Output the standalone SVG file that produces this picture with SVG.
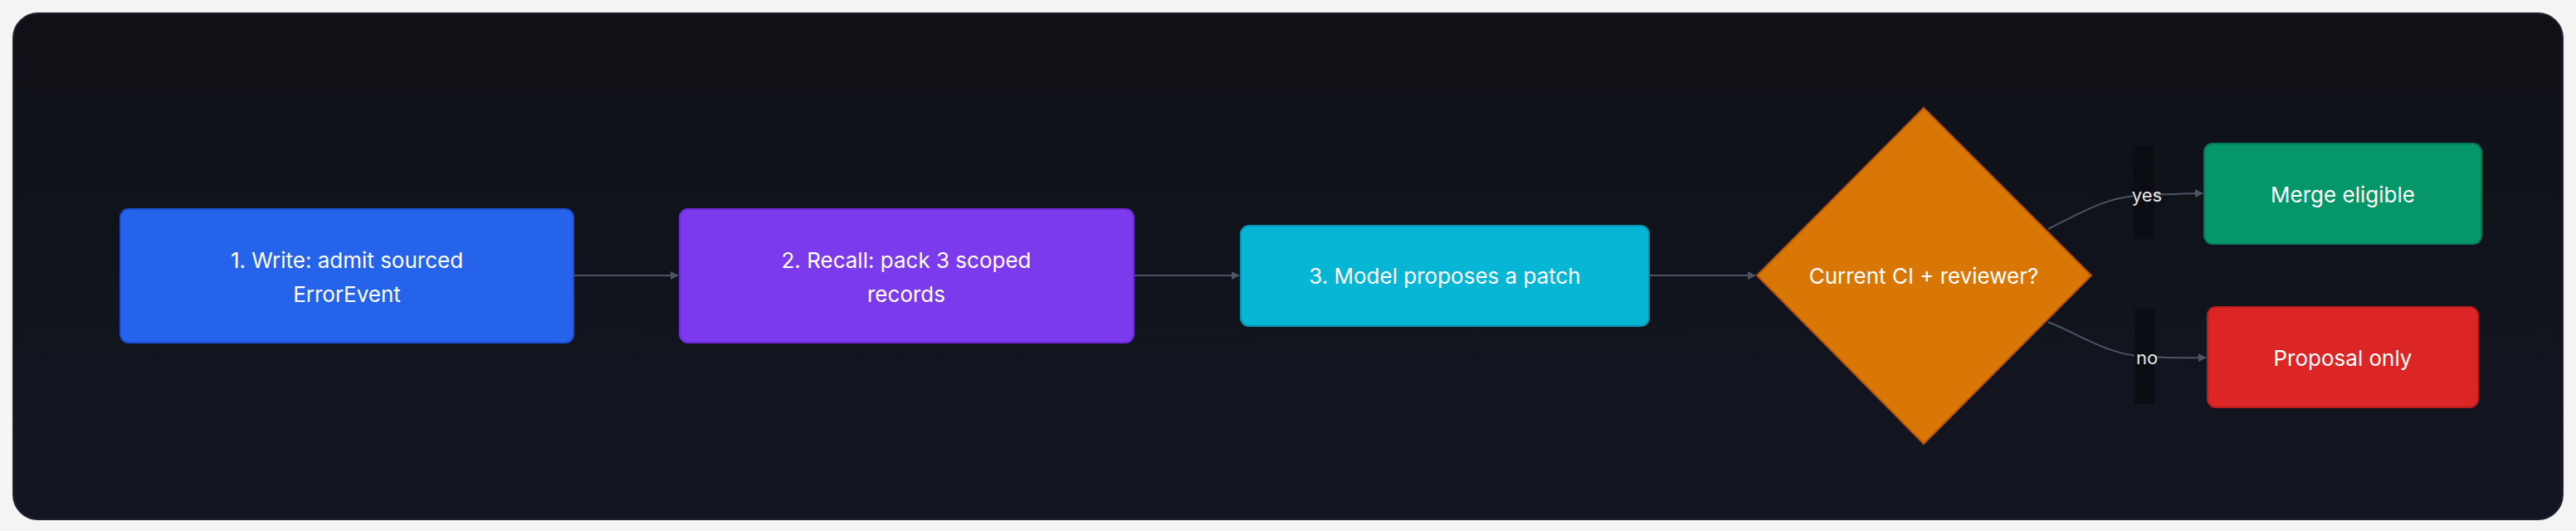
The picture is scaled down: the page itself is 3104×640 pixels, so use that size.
<svg xmlns="http://www.w3.org/2000/svg" width="3104" height="640" viewBox="0 0 3104 640">
<defs>
<linearGradient id="bg" x1="0" y1="0" x2="0" y2="1"><stop offset="0" stop-color="#0f1116"/><stop offset="1" stop-color="#131522"/></linearGradient>
<marker id="ah" viewBox="0 0 10 10" refX="9" refY="5" markerWidth="5" markerHeight="5" orient="auto"><path d="M0,0L10,5L0,10z" fill="#4b5563"/></marker>
</defs>
<style>
.t{font-family:Inter,"Liberation Sans",sans-serif;font-size:26px;fill:#fff;text-anchor:middle;dominant-baseline:central}
.e{fill:none;stroke:#4b5563;stroke-width:2;marker-end:url(#ah)}
.l{font-family:Inter,"Liberation Sans",sans-serif;font-size:22px;fill:#e5e7eb;text-anchor:middle;dominant-baseline:central}
</style>
<rect width="3104" height="640" fill="#f4f4f5"/>
<rect x="16" y="16" width="3072" height="610" rx="30" fill="url(#bg)" stroke="#1f2330" stroke-width="2"/>
<g id="connectors">
<path class="e" d="M691,332H817"/>
<path class="e" d="M1366,332H1493"/>
<path class="e" d="M1987,332H2115"/>
<path class="e" d="M2468,276C2510,255 2540,236 2587,235S2630,233 2654,233"/>
<path class="e" d="M2468,388C2510,405 2540,428 2587,430S2630,431 2658,431"/>
<rect x="2570" y="176" width="26" height="112" fill="#0c0d12"/>
<text class="l" x="2587" y="235">yes</text>
<rect x="2572" y="372" width="24" height="115" fill="#0c0d12"/>
<text class="l" x="2587" y="431">no</text>
</g>
<g id="n1"><rect x="145" y="252" width="546" height="161" rx="10" fill="#2563eb" stroke="#1d4ed8" stroke-width="2"/><text class="t" x="418" y="313">1. Write: admit sourced</text><text class="t" x="418" y="354">ErrorEvent</text></g>
<g id="n2"><rect x="819" y="252" width="547" height="161" rx="10" fill="#7c3aed" stroke="#6d28d9" stroke-width="2"/><text class="t" x="1092" y="313">2. Recall: pack 3 scoped</text><text class="t" x="1092" y="354">records</text></g>
<g id="n3"><rect x="1495" y="272" width="492" height="121" rx="10" fill="#06b6d4" stroke="#0891b2" stroke-width="2"/><text class="t" x="1741" y="332">3. Model proposes a patch</text></g>
<g id="d"><polygon points="2318,130 2520,332 2318,535 2117,332" fill="#d97706" stroke="#b45309" stroke-width="2"/><text class="t" x="2318" y="332">Current CI + reviewer?</text></g>
<g id="m"><rect x="2656" y="173" width="334" height="121" rx="10" fill="#059669" stroke="#047857" stroke-width="2"/><text class="t" x="2823" y="234">Merge eligible</text></g>
<g id="p"><rect x="2660" y="370" width="326" height="121" rx="10" fill="#dc2626" stroke="#b91c1c" stroke-width="2"/><text class="t" x="2823" y="431">Proposal only</text></g>
</svg>
